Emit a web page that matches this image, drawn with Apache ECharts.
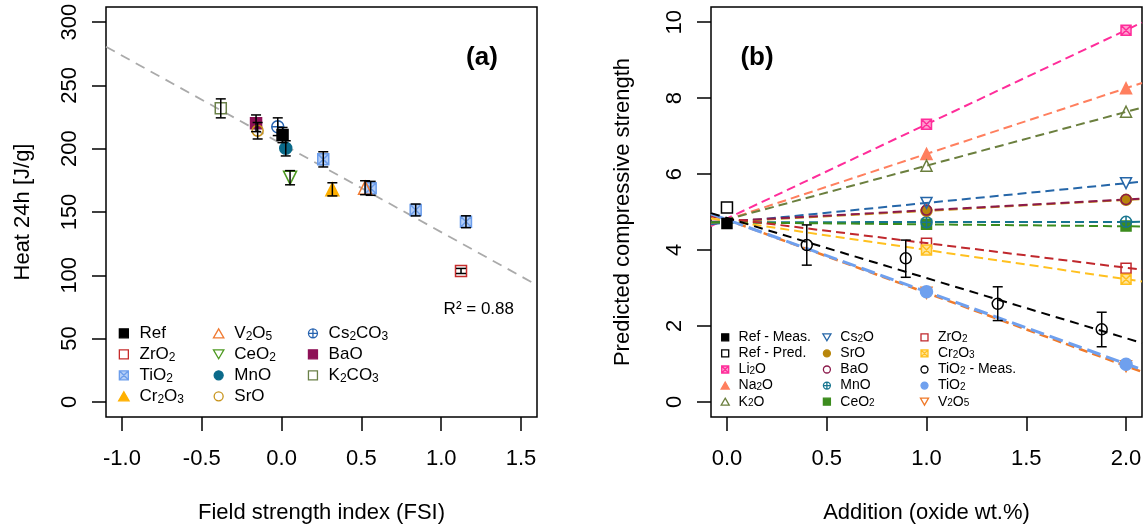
<!DOCTYPE html>
<html>
<head>
<meta charset="utf-8">
<script src="https://cdn.jsdelivr.net/npm/echarts@6/dist/echarts.min.js"></script>
<style>
  html, body { margin: 0; padding: 0; background: #fff; }
  #chart { width: 1145px; height: 527px; }
</style>
</head>
<body>
<div id="chart"></div>
<script>
// ---- panel (a): [FSI, heat 24h in J/g, error] ----
const aRef    = [[0.006, 210.8, 6.0]];
const aZrO2   = [[1.124, 103.4, 2.0]];
const aTiO2   = [[0.261, 191.6, 6.0], [0.558, 168.7, 5.5], [0.840, 151.6, 4.7], [1.155, 142.3, 4.7]];
const aCr2O3  = [[0.318, 167.9, 5.2]];
const aV2O5   = [[0.523, 169.2, 5.5]];
const aCeO2   = [[0.053, 177.1, 5.6]];
const aMnO    = [[0.026, 200.3, 6.0]];
const aSrO    = [[-0.150, 214.2, 6.5]];
const aCs2CO3 = [[-0.024, 217.4, 7.0]];
const aBaO    = [[-0.160, 220.1, 6.6]];
const aK2CO3  = [[-0.381, 231.9, 7.5]];
const aFit    = [[-1.1, 280.6], [1.6, 92.2]];   // grey dashed regression line
const aXTicks = [-1.0, -0.5, 0.0, 0.5, 1.0, 1.5];
const aYTicks = [0, 50, 100, 150, 200, 250, 300];

// ---- panel (b): predicted strength at 1 and 2 wt.% ----
const bAdd     = [1, 2];
const bLi2O    = [7.31, 9.79];
const bNa2O    = [6.53, 8.26];
const bK2O     = [6.22, 7.64];
const bCs2O    = [5.24, 5.76];
const bSrO     = [5.03, 5.32];
const bBaO     = [5.05, 5.33];
const bMnO     = [4.73, 4.74];
const bCeO2    = [4.68, 4.63];
const bZrO2    = [4.18, 3.52];
const bCr2O3   = [4.00, 3.23];
const bTiO2    = [2.90, 0.99];
const bV2O5    = [2.87, 0.94];
const bRefMeas = [[0, 4.70]];
const bRefPred = [[0, 5.12]];
// TiO2 measured: [addition, mean, low, high]
const bTiMeas  = [[0.400, 4.13, 3.60, 4.66], [0.896, 3.78, 3.28, 4.26], [1.357, 2.58, 2.14, 3.03], [1.878, 1.91, 1.45, 2.36]];
// dashed lines, value read at the left and right edge of the plot
const bEdge       = [-0.08, 2.08];
const bLi2OFit    = [4.63, 9.99];
const bNa2OFit    = [4.66, 8.40];
const bK2OFit     = [4.69, 7.75];
const bCs2OFit    = [4.68, 5.80];
const bSrOFit     = [4.72, 5.34];
const bBaOFit     = [4.74, 5.35];
const bMnOFit     = [4.73, 4.74];
const bCeO2Fit    = [4.73, 4.62];
const bZrO2Fit    = [4.88, 3.48];
const bCr2O3Fit   = [4.83, 3.17];
const bTiO2Fit    = [4.95, 0.85];
const bV2O5Fit    = [4.95, 0.79];
const bTiMeasFit  = [4.97, 1.55];
const bXTicks = [0, 0.5, 1, 1.5, 2];
const bYTicks = [0, 2, 4, 6, 8, 10];

const FONT = 'Liberation Sans, Arial, sans-serif';
const SQ   = 'path://M0,0L20,0L20,20L0,20Z';
const SQX  = 'path://M0,0L20,0L20,20L0,20Z M0,0L20,20 M20,0L0,20';
const CPL  = 'path://M10,0A10,10,0,1,1,10,20A10,10,0,1,1,10,0Z M10,0L10,20 M0,10L20,10';
const TRI  = 'path://M10,0L20,17.3L0,17.3Z';
const DTRI = 'path://M0,0L20,0L10,17.3Z';
const CLEAR = 'rgba(255,255,255,0)';

function sym(kind, color, tint) {
  switch (kind) {
    case 'sq':    return { symbol: SQ, fill: color };
    case 'osq':   return { symbol: SQ, fill: CLEAR };
    case 'sqx':   return { symbol: SQX, fill: tint };
    case 'tri':   return { symbol: TRI, fill: color };
    case 'otri':  return { symbol: TRI, fill: CLEAR };
    case 'dtri':  return { symbol: DTRI, fill: CLEAR };
    case 'dot':   return { symbol: 'circle', fill: color };
    case 'ocirc': return { symbol: 'circle', fill: CLEAR };
    case 'cplus': return { symbol: CPL, fill: CLEAR };
  }
}

function scatter(id, data, kind, color, size, grid, tint) {
  const s = sym(kind, color, tint);
  return {
    id, name: id, type: 'scatter', xAxisIndex: grid, yAxisIndex: grid,
    data, symbol: s.symbol, symbolSize: size, z: 3, silent: true,
    itemStyle: { color: s.fill, borderColor: color, borderWidth: 1.5, opacity: 1 },
    emphasis: { disabled: true }
  };
}

function fitLine(id, xs, ys, color, width, dash, grid) {
  return {
    id, name: id, type: 'line', xAxisIndex: grid, yAxisIndex: grid,
    data: [[xs[0], ys[0]], [xs[1], ys[1]]], showSymbol: false, symbol: 'none',
    lineStyle: { color, width, type: dash }, z: 1, silent: true, clip: true
  };
}

function errBars(id, data, grid) {
  return {
    id, type: 'custom', xAxisIndex: grid, yAxisIndex: grid, data, z: 4, silent: true,
    encode: { x: 0, y: [1, 2] },
    renderItem: (params, api) => {
      const x = api.value(0);
      const lo = api.coord([x, api.value(1)]);
      const hi = api.coord([x, api.value(2)]);
      const w = 5;
      const st = { stroke: '#000', lineWidth: 1.5 };
      return { type: 'group', children: [
        { type: 'line', shape: { x1: lo[0], y1: lo[1], x2: hi[0], y2: hi[1] }, style: st },
        { type: 'line', shape: { x1: lo[0] - w, y1: lo[1], x2: lo[0] + w, y2: lo[1] }, style: st },
        { type: 'line', shape: { x1: hi[0] - w, y1: hi[1], x2: hi[0] + w, y2: hi[1] }, style: st }
      ] };
    }
  };
}

function xAxis(grid, min, max, ticks, name) {
  return {
    type: 'value', gridIndex: grid, min, max, name,
    nameLocation: 'middle', nameGap: 85,
    nameTextStyle: { fontFamily: FONT, fontSize: 22, color: '#000' },
    axisLine: { show: false, onZero: false }, splitLine: { show: false },
    axisTick: { show: true, length: 14, customValues: ticks, lineStyle: { color: '#000', width: 1.5 } },
    axisLabel: { customValues: ticks, margin: 31, fontFamily: FONT, fontSize: 22, color: '#000',
      formatter: v => Number(v).toFixed(1) }
  };
}

function yAxis(grid, min, max, ticks, name, gap) {
  return {
    type: 'value', gridIndex: grid, min, max, name,
    nameLocation: 'middle', nameGap: gap, nameRotate: 90,
    nameTextStyle: { fontFamily: FONT, fontSize: 22, color: '#000' },
    axisLine: { show: false, onZero: false }, splitLine: { show: false },
    axisTick: { show: true, length: 14, customValues: ticks, lineStyle: { color: '#000', width: 1.5 } },
    axisLabel: { customValues: ticks, rotate: 90, margin: 25, fontFamily: FONT, fontSize: 22, color: '#000',
      formatter: v => String(v) }
  };
}

const labels = {
  a_Ref: 'Ref', a_ZrO2: 'ZrO{s|2}', a_TiO2: 'TiO{s|2}', a_Cr2O3: 'Cr{s|2}O{s|3}',
  a_V2O5: 'V{s|2}O{s|5}', a_CeO2: 'CeO{s|2}', a_MnO: 'MnO', a_SrO: 'SrO',
  a_Cs2CO3: 'Cs{s|2}CO{s|3}', a_BaO: 'BaO', a_K2CO3: 'K{s|2}CO{s|3}',
  b_RefMeas: 'Ref - Meas.', b_RefPred: 'Ref - Pred.', b_Li2O: 'Li{s|2}O', b_Na2O: 'Na{s|2}O',
  b_K2O: 'K{s|2}O', b_Cs2O: 'Cs{s|2}O', b_SrO: 'SrO', b_BaO: 'BaO', b_MnO: 'MnO',
  b_CeO2: 'CeO{s|2}', b_ZrO2: 'ZrO{s|2}', b_Cr2O3: 'Cr{s|2}O{s|3}', b_TiMeas: 'TiO{s|2} - Meas.',
  b_TiO2: 'TiO{s|2}', b_V2O5: 'V{s|2}O{s|5}'
};

function legend(ids, left, top, c) {
  return {
    data: ids, orient: 'vertical', left, top, padding: 0,
    itemWidth: c.w, itemHeight: c.h, itemGap: c.gap, selectedMode: false,
    symbolKeepAspect: true,
    formatter: n => labels[n],
    itemStyle: { borderWidth: 1.3 },
    textStyle: {
      fontFamily: FONT, fontSize: c.fs, lineHeight: c.lh, color: '#000',
      rich: { s: { fontFamily: FONT, fontSize: c.sfs, lineHeight: c.slh, verticalAlign: 'bottom', color: '#000' } }
    }
  };
}
const legA = { w: 21.3, h: 9, gap: 3, fs: 17, lh: 18, sfs: 12, slh: 10 };
const legB = { w: 16.8, h: 7, gap: 2.1, fs: 14, lh: 14, sfs: 10, slh: 8 };

const aAll = [...aRef, ...aZrO2, ...aTiO2, ...aCr2O3, ...aV2O5, ...aCeO2, ...aMnO, ...aSrO, ...aCs2CO3, ...aBaO, ...aK2CO3];
const pts = arr => bAdd.map((x, i) => [x, arr[i]]);

const series = [
  // panel (a)
  fitLine('a_fit', [aFit[0][0], aFit[1][0]], [aFit[0][1], aFit[1][1]], '#aaaaaa', 1.8, [10, 7], 0),
  scatter('a_K2CO3', aK2CO3, 'osq', '#6a8048', 11, 0),
  scatter('a_BaO', aBaO, 'sq', '#8e1157', 11, 0),
  scatter('a_SrO', aSrO, 'ocirc', '#c8941c', 11, 0),
  scatter('a_Cs2CO3', aCs2CO3, 'cplus', '#2763b0', 12, 0),
  scatter('a_Ref', aRef, 'sq', '#000000', 11, 0),
  scatter('a_MnO', aMnO, 'dot', '#0b6a8a', 12, 0),
  scatter('a_CeO2', aCeO2, 'dtri', '#4e9a21', 13, 0),
  scatter('a_TiO2', aTiO2, 'sqx', '#6d9eeb', 11, 0, '#b5cff7'),
  scatter('a_Cr2O3', aCr2O3, 'tri', '#ffb000', 13, 0),
  scatter('a_V2O5', aV2O5, 'otri', '#f07a32', 13, 0),
  scatter('a_ZrO2', aZrO2, 'osq', '#c62c2c', 11, 0),
  errBars('a_err', aAll.map(p => [p[0], p[1] - p[2], p[1] + p[2]]), 0),

  // panel (b) lines
  fitLine('b_Li2O_fit', bEdge, bLi2OFit, '#ff2d9a', 2, [9, 5], 1),
  fitLine('b_Na2O_fit', bEdge, bNa2OFit, '#ff7f5e', 2, [9, 5], 1),
  fitLine('b_K2O_fit', bEdge, bK2OFit, '#6b7f3e', 2, [9, 5], 1),
  fitLine('b_Cs2O_fit', bEdge, bCs2OFit, '#2566a8', 2, [9, 5], 1),
  fitLine('b_SrO_fit', bEdge, bSrOFit, '#c8941c', 2, [9, 5], 1),
  fitLine('b_BaO_fit', bEdge, bBaOFit, '#8b1a4b', 2, [9, 5], 1),
  fitLine('b_MnO_fit', bEdge, bMnOFit, '#17758f', 2, [9, 5], 1),
  fitLine('b_CeO2_fit', bEdge, bCeO2Fit, '#3c8c1e', 2, [9, 5], 1),
  fitLine('b_ZrO2_fit', bEdge, bZrO2Fit, '#c0282d', 2, [9, 5], 1),
  fitLine('b_Cr2O3_fit', bEdge, bCr2O3Fit, '#ffc01f', 2, [9, 5], 1),
  fitLine('b_V2O5_fit', bEdge, bV2O5Fit, '#f07a2a', 2.5, [9, 5], 1),
  fitLine('b_TiO2_fit', bEdge, bTiO2Fit, '#6fa0ee', 3, [14, 6], 1),
  fitLine('b_TiMeas_fit', bEdge, bTiMeasFit, '#000000', 2, [9, 6], 1),

  // panel (b) points
  scatter('b_RefMeas', bRefMeas, 'sq', '#000000', 10, 1),
  scatter('b_RefPred', bRefPred, 'osq', '#000000', 11, 1),
  scatter('b_Li2O', pts(bLi2O), 'sqx', '#ff2d9a', 10, 1, '#ff9dcf'),
  scatter('b_Na2O', pts(bNa2O), 'tri', '#ff7f5e', 11, 1),
  scatter('b_K2O', pts(bK2O), 'otri', '#6b7f3e', 11, 1),
  scatter('b_CeO2', pts(bCeO2), 'sq', '#3c8c1e', 10, 1),
  scatter('b_MnO', pts(bMnO), 'cplus', '#17758f', 11, 1),
  scatter('b_SrO', pts(bSrO), 'dot', '#b8860b', 11, 1),
  scatter('b_BaO', pts(bBaO), 'ocirc', '#8b1a4b', 10, 1),
  scatter('b_Cs2O', pts(bCs2O), 'dtri', '#2566a8', 11, 1),
  scatter('b_ZrO2', pts(bZrO2), 'osq', '#c0282d', 10, 1),
  scatter('b_Cr2O3', pts(bCr2O3), 'sqx', '#ffc01f', 10, 1, '#ffe49a'),
  scatter('b_V2O5', pts(bV2O5), 'dtri', '#f07a2a', 11, 1),
  scatter('b_TiO2', pts(bTiO2), 'dot', '#6fa0ee', 12, 1),
  scatter('b_TiMeas', bTiMeas, 'ocirc', '#000000', 11, 1),
  errBars('b_err', bTiMeas.map(p => [p[0], p[2], p[3]]), 1)
];

const option = {
  animation: false,
  backgroundColor: '#fff',
  textStyle: { fontFamily: FONT },
  grid: [
    { left: 106, top: 7, width: 431, height: 410, show: true, borderColor: '#000', borderWidth: 1.5,
      backgroundColor: 'transparent', containLabel: false, outerBoundsMode: 'none' },
    { left: 711, top: 7, width: 431, height: 410, show: true, borderColor: '#000', borderWidth: 1.5,
      backgroundColor: 'transparent', containLabel: false, outerBoundsMode: 'none' }
  ],
  xAxis: [
    xAxis(0, -1.1, 1.6, aXTicks, 'Field strength index (FSI)'),
    xAxis(1, -0.08, 2.08, bXTicks, 'Addition (oxide wt.%)')
  ],
  yAxis: [
    yAxis(0, -12, 312, aYTicks, 'Heat 24h [J/g]', 72),
    yAxis(1, -0.4, 10.4, bYTicks, 'Predicted compressive strength', 77)
  ],
  legend: [
    legend(['a_Ref', 'a_ZrO2', 'a_TiO2', 'a_Cr2O3'], 118, 324.3, legA),
    legend(['a_V2O5', 'a_CeO2', 'a_MnO', 'a_SrO'], 212.8, 324.3, legA),
    legend(['a_Cs2CO3', 'a_BaO', 'a_K2CO3'], 307.8, 324.3, legA),
    legend(['b_RefMeas', 'b_RefPred', 'b_Li2O', 'b_Na2O', 'b_K2O'], 720.5, 330.3, legB),
    legend(['b_Cs2O', 'b_SrO', 'b_BaO', 'b_MnO', 'b_CeO2'], 822.2, 330.3, legB),
    legend(['b_ZrO2', 'b_Cr2O3', 'b_TiMeas', 'b_TiO2', 'b_V2O5'], 919.8, 330.3, legB)
  ],
  graphic: [
    { type: 'text', x: 482, y: 58, silent: true,
      style: { text: '(a)', font: 'bold 26px ' + FONT, fill: '#000', align: 'center', verticalAlign: 'middle' } },
    { type: 'text', x: 757, y: 58, silent: true,
      style: { text: '(b)', font: 'bold 26px ' + FONT, fill: '#000', align: 'center', verticalAlign: 'middle' } },
    { type: 'text', x: 514, y: 309, silent: true,
      style: { text: 'R² = 0.88', font: '17px ' + FONT, fill: '#000', align: 'right', verticalAlign: 'middle' } }
  ],
  series
};

const chart = echarts.init(document.getElementById('chart'));
chart.setOption(option);
window.addEventListener('resize', () => chart.resize());
</script>
</body>
</html>
